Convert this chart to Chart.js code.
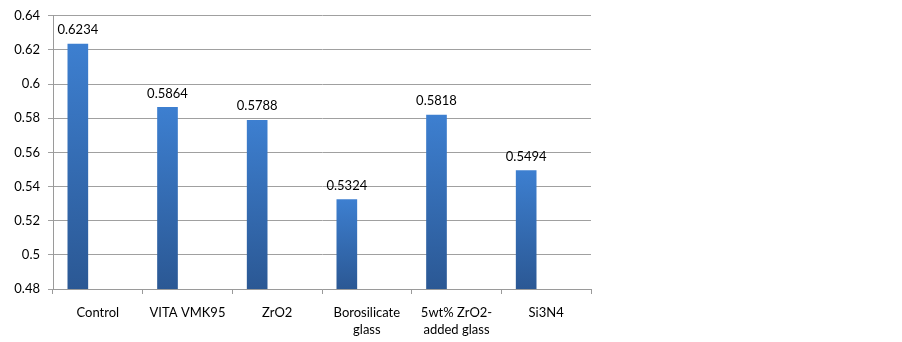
<!DOCTYPE html>
<html>
<head>
<meta charset="utf-8">
<script src="https://cdn.jsdelivr.net/npm/chart.js@4/dist/chart.umd.min.js"></script>
<style>
  html, body { margin: 0; padding: 0; background: #fff; }
  #wrap { width: 902px; height: 342px; }
</style>
</head>
<body>
<div id="wrap"><canvas id="grafica"></canvas></div>
<script>
// datos
const categorias = ['Control', 'VITA VMK95', 'ZrO2', ['Borosilicate', 'glass'], ['5wt% ZrO2-', 'added glass'], 'Si3N4'];
const valores = [0.6234, 0.5864, 0.5788, 0.5324, 0.5818, 0.5494];
const serieVacia1 = [null, null, null, null, null, null];   // series vacias del grupo (como en Excel)
const serieVacia2 = [null, null, null, null, null, null];
const yMin = 0.48, yMax = 0.64, yPaso = 0.02;

const fuente = "Lato, 'Open Sans', sans-serif";

// degradado por barra: claro arriba, oscuro abajo
function colorBarra(context) {
  const chart = context.chart;
  const area = chart.chartArea;
  if (!area || context.raw == null) return '#3a75c0';
  const yTop = chart.scales.y.getPixelForValue(context.raw);
  const g = chart.ctx.createLinearGradient(0, yTop, 0, area.bottom);
  g.addColorStop(0, '#3d7fd0');
  g.addColorStop(1, '#2b5894');
  return g;
}

// etiquetas de valor encima de cada barra
const etiquetasValor = {
  id: 'etiquetasValor',
  afterDatasetsDraw(chart) {
    const ctx = chart.ctx;
    const meta = chart.getDatasetMeta(0);
    ctx.save();
    ctx.font = '13px ' + fuente;
    ctx.fillStyle = '#000';
    ctx.textAlign = 'center';
    ctx.textBaseline = 'middle';
    meta.data.forEach((bar, i) => {
      ctx.fillText(valores[i].toFixed(4), bar.x, bar.y - 14);
    });
    ctx.restore();
  }
};

const ctx = document.getElementById('grafica').getContext('2d');
new Chart(ctx, {
  type: 'bar',
  data: {
    labels: categorias,
    datasets: [
      { label: 'Serie 1', data: valores, backgroundColor: colorBarra, barThickness: 20 },
      { label: 'Serie 2', data: serieVacia1, barThickness: 20 },
      { label: 'Serie 3', data: serieVacia2, barThickness: 20 }
    ]
  },
  options: {
    responsive: true,
    maintainAspectRatio: false,
    animation: false,
    layout: { padding: { top: 15, right: 311, left: 0, bottom: 0 } },
    plugins: {
      legend: { display: false },
      tooltip: { enabled: false }
    },
    scales: {
      x: {
        grid: { drawOnChartArea: false, tickLength: 5, color: '#9a9a9a', offset: true },
        border: { color: '#9a9a9a' },
        ticks: { color: '#000', font: { family: fuente, size: 13, lineHeight: 1.32 }, padding: 10, maxRotation: 0, autoSkip: false },
        afterFit(scale) { scale.height = 53; }
      },
      y: {
        min: yMin,
        max: yMax,
        grid: { color: '#a0a0a0', tickLength: 5 },
        border: { color: '#9a9a9a' },
        ticks: {
          stepSize: yPaso,
          color: '#000',
          font: { family: fuente, size: 13 },
          padding: 8,
          callback: v => parseFloat(v.toFixed(2)).toString()
        },
        afterFit(scale) { scale.width = 53; }
      }
    }
  },
  plugins: [etiquetasValor]
});
</script>
</body>
</html>
